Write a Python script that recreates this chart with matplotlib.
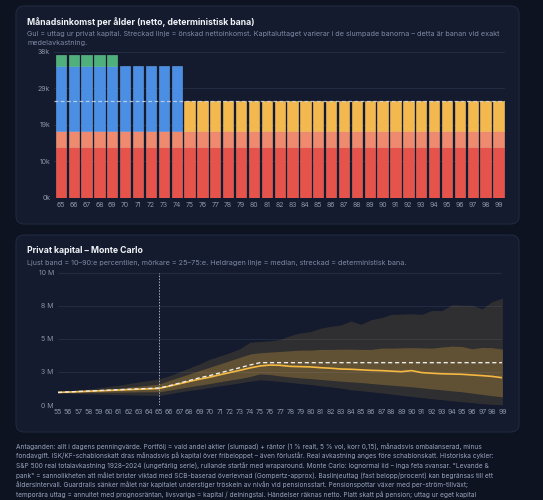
import numpy as np
import matplotlib
matplotlib.use("Agg")
import matplotlib.pyplot as plt
from matplotlib.patches import FancyBboxPatch

plt.rcParams['font.family'] = ['Inter', 'DejaVu Sans']

W, H = 543, 500
BG_PAGE = '#0d1321'
BG_CARD = '#141b2e'
CARD_EDGE = '#1f2940'
GRID = '#212b42'
TICK = '#8a93ab'
SUB = '#7d89a5'

# ---- chart 1: monthly income per age (thousands SEK) ----
bar_ages = list(range(65, 100))
allman_k = [13.3] * 35
tjanste_k = [4.2] * 35
temp_k = [17.1] * 10 + [0.0] * 25
extra_k = [2.9] * 5 + [0.0] * 30
privat_k = [0.0] * 10 + [8.0] * 25
target_k = 25.5
bar_yticks = [0, 9.6, 19.2, 28.8, 38.4]

# ---- chart 2: private capital, Monte Carlo (MSEK) ----
mc_ages = list(range(55, 100))
p10 = [0.92, 0.89, 0.86, 0.84, 0.82, 0.80, 0.78, 0.77, 0.75, 0.73, 0.72,
       0.85, 0.98, 1.10, 1.20, 1.33, 1.45, 1.55, 1.67, 1.80, 1.90,
       1.85, 1.78, 1.70, 1.62, 1.55, 1.45, 1.37, 1.28, 1.15,
       1.08, 1.00, 0.92, 0.83, 0.73, 0.65, 0.56, 0.48, 0.40, 0.32,
       0.25, 0.18, 0.10, 0.05, 0.02]
p25 = [0.93, 0.93, 0.94, 0.95, 0.96, 0.97, 0.97, 0.98, 0.99, 1.00, 1.00,
       1.12, 1.25, 1.38, 1.50, 1.62, 1.75, 1.88, 2.00, 2.15, 2.35,
       2.30, 2.20, 2.12, 2.05, 2.00, 1.93, 1.87, 1.80, 1.75,
       1.70, 1.63, 1.56, 1.50, 1.44, 1.38, 1.30, 1.22, 1.15, 1.07,
       1.00, 0.90, 0.80, 0.70, 0.62]
p50 = [0.95, 0.98, 1.01, 1.04, 1.07, 1.10, 1.13, 1.16, 1.19, 1.22, 1.25,
       1.42, 1.60, 1.78, 1.95, 2.10, 2.28, 2.45, 2.62, 2.80, 2.95,
       3.02, 3.00, 2.92, 2.90, 2.88, 2.82, 2.78, 2.72, 2.70,
       2.66, 2.62, 2.60, 2.56, 2.52, 2.60, 2.45, 2.40, 2.36, 2.34,
       2.32, 2.27, 2.22, 2.16, 2.06]
p75 = [0.96, 1.00, 1.05, 1.10, 1.15, 1.20, 1.27, 1.35, 1.42, 1.50, 1.58,
       1.85, 2.10, 2.35, 2.60, 2.85, 3.10, 3.35, 3.60, 3.85, 3.95,
       4.00, 4.05, 4.10, 4.15, 4.15, 4.20, 4.20, 4.22, 4.22,
       4.20, 4.20, 4.30, 4.30, 4.32, 4.34, 4.32, 4.30, 4.38, 4.45,
       4.42, 4.25, 4.35, 4.33, 4.22]
p90 = [0.98, 1.05, 1.13, 1.20, 1.30, 1.40, 1.50, 1.62, 1.75, 1.85, 1.97,
       2.20, 2.50, 2.80, 3.10, 3.45, 3.70, 3.95, 4.25, 4.75, 4.80,
       4.85, 4.95, 5.25, 5.45, 5.55, 5.80, 5.95, 6.05, 6.35,
       6.10, 6.45, 6.60, 6.85, 6.87, 6.90, 6.85, 7.15, 7.13, 7.58,
       7.55, 7.53, 7.28, 7.83, 8.08]
det = [0.95, 0.985, 1.02, 1.055, 1.09, 1.12, 1.155, 1.19, 1.22, 1.25, 1.28,
       1.45, 1.65, 1.85, 2.05, 2.22, 2.42, 2.62, 2.82, 3.02, 3.20,
       3.20, 3.20, 3.20, 3.20, 3.20, 3.20, 3.20, 3.20, 3.20,
       3.20, 3.20, 3.20, 3.20, 3.20, 3.20, 3.20, 3.20, 3.20, 3.20,
       3.20, 3.20, 3.20, 3.20, 3.20]
retire_age = 65
mc_yticks = [0, 2.5, 5, 7.5, 10]
mc_yticklabels = ['0 M', '3 M', '5 M', '8 M', '10 M']

title1 = 'Månadsinkomst per ålder (netto, deterministisk bana)'
sub1 = ['Gul = uttag ur privat kapital. Streckad linje = önskad nettoinkomst. '
        'Kapitaluttaget varierar i de slumpade banorna – detta är banan vid exakt',
        'medelavkastning.']
title2 = 'Privat kapital – Monte Carlo'
sub2 = ('Ljust band = 10–90:e percentilen, mörkare = 25–75:e. '
        'Heldragen linje = median, streckad = deterministisk bana.')
footnote = [
    'Antaganden: allt i dagens penningvärde. Portfölj = vald andel aktier (slumpad) + räntor (1 % realt, 5 % vol, korr 0,15), månadsvis ombalanserad, minus',
    'fondavgift. ISK/KF-schablonskatt dras månadsvis på kapital över fribeloppet – även förlustår. Real avkastning anges före schablonskatt. Historiska cykler:',
    'S&P 500 real totalavkastning 1928–2024 (ungefärlig serie), rullande startår med wraparound. Monte Carlo: lognormal iid – inga feta svansar. "Levande &',
    'pank" = sannolikheten att målet brister viktad med SCB-baserad överlevnad (Gompertz-approx). Baslinjeuttag (fast belopp/procent) kan begränsas till ett',
    'åldersintervall. Guardrails sänker målet när kapitalet understiger tröskeln av nivån vid pensionsstart. Pensionspottar växer med per-ström-tillväxt;',
    'temporära uttag = annuitet med prognosräntan, livsvariga = kapital / delningstal. Händelser räknas netto. Platt skatt på pension; uttag ur eget kapital',
]


def fx(px):
    return px / W


def fy(py):
    return 1 - py / H


fig = plt.figure(figsize=(W / 100, H / 100), dpi=100)
fig.patch.set_facecolor(BG_PAGE)

for top, bot in [(6, 224), (235, 432)]:
    card = FancyBboxPatch((fx(16), fy(bot)), fx(503), (bot - top) / H,
                          boxstyle='round,pad=0,rounding_size=0.016',
                          transform=fig.transFigure, facecolor=BG_CARD,
                          edgecolor=CARD_EDGE, linewidth=0.8, zorder=0)
    fig.add_artist(card)

fig.text(fx(27), fy(22.5), title1, color='#f1f3f8', fontsize=6.25,
         fontweight='bold', va='center', ha='left')
for i, line in enumerate(sub1):
    fig.text(fx(27), fy(34 + i * 8.8), line, color=SUB, fontsize=5.22,
             va='center', ha='left')
fig.text(fx(27), fy(250.5), title2, color='#f1f3f8', fontsize=6.25,
         fontweight='bold', va='center', ha='left')
fig.text(fx(27), fy(262.7), sub2, color=SUB, fontsize=5.22,
         va='center', ha='left')
# last footnote line is clipped in the source; squeeze spacing so it stays readable
for i, line in enumerate(footnote):
    fig.text(fx(16), fy(446.5 + i * 9.6), line, color='#9aa4be', fontsize=4.72,
             va='center', ha='left')

# ---- bar chart ----
ax1 = fig.add_axes([fx(54.4), fy(197.7), fx(450.5), 145.7 / H])
ax1.set_facecolor('none')
x = np.array(bar_ages)
layers = [(allman_k, '#e5534b', '#f06a60'),
          (tjanste_k, '#ef8a6e', '#f59c82'),
          (temp_k, '#4a8fe3', '#62a2ef'),
          (extra_k, '#4fb07c', '#66c492'),
          (privat_k, '#f3b94e', '#f8c866')]
bottom = np.zeros(len(x))
for vals, col, edge in layers:
    v = np.array(vals)
    on = v > 0
    ax1.bar(x[on], v[on], bottom=bottom[on], width=0.8, color=col,
            edgecolor=edge, linewidth=0.4, zorder=2)
    bottom = bottom + v
ax1.axhline(target_k, color='#d5dcea', lw=0.9, ls=(0, (3, 2)), alpha=0.8, zorder=3)
ax1.set_xlim(64.5, 99.5)
ax1.set_ylim(0, 38.4)
ax1.set_yticks(bar_yticks)
ax1.set_yticklabels([f'{v:.0f}k' for v in bar_yticks])
ax1.set_xticks(bar_ages)
ax1.set_xticklabels([str(a) for a in bar_ages])

# ---- Monte Carlo chart ----
ax2 = fig.add_axes([fx(58), fy(405), fx(444.4), 132.3 / H])
ax2.set_facecolor('none')
ax2.fill_between(mc_ages, p10, p90, color='#f5b942', alpha=0.12, lw=0, zorder=2)
ax2.fill_between(mc_ages, p25, p75, color='#f5b942', alpha=0.25, lw=0, zorder=3)
ax2.plot(mc_ages, det, color='#ebebeb', lw=1.0, ls=(0, (3, 2)), zorder=5)
ax2.plot(mc_ages, p50, color='#f5b942', lw=1.2, zorder=4)
ax2.axvline(retire_age, color='#a6afc4', lw=0.7, ls=(0, (1.5, 1.5)), zorder=6)
ax2.set_xlim(55, 99)
ax2.set_ylim(0, 10)
ax2.set_yticks(mc_yticks)
ax2.set_yticklabels(mc_yticklabels)
ax2.set_xticks(mc_ages)
ax2.set_xticklabels([str(a) for a in mc_ages])

for ax in (ax1, ax2):
    for s in ax.spines.values():
        s.set_visible(False)
    ax.grid(axis='y', color=GRID, lw=0.8, zorder=0)
    ax.set_axisbelow(True)
    ax.tick_params(length=0, colors=TICK, labelsize=5.0, pad=3)

fig.savefig('out.png', dpi=100, facecolor=fig.get_facecolor())
